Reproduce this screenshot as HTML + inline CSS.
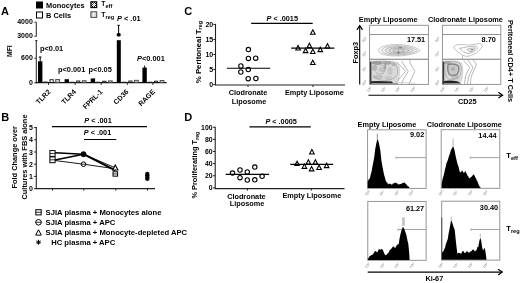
<!DOCTYPE html>
<html><head><meta charset="utf-8"><title>Figure</title>
<style>html,body{margin:0;padding:0;background:#fff;width:520px;height:283px;overflow:hidden}
svg{display:block} text{font-family:"Liberation Sans", Arial, Helvetica, sans-serif}</style></head>
<body><svg width="520" height="283" viewBox="0 0 520 283">
<defs>
<pattern id="chk" width="2" height="2" patternUnits="userSpaceOnUse"><rect width="2" height="2" fill="#fff"/><rect width="1" height="1" fill="#000"/><rect x="1" y="1" width="1" height="1" fill="#000"/></pattern>
<radialGradient id="dens1" cx="0.35" cy="0.4" r="0.7"><stop offset="0" stop-color="#bdbdbd"/><stop offset="0.55" stop-color="#a5a5a5"/><stop offset="1" stop-color="#d6d6d6"/></radialGradient>
<radialGradient id="dens2" cx="0.4" cy="0.45" r="0.7"><stop offset="0" stop-color="#b5b5b5"/><stop offset="0.55" stop-color="#a0a0a0"/><stop offset="1" stop-color="#d4d4d4"/></radialGradient>
<pattern id="vst" width="2" height="2" patternUnits="userSpaceOnUse"><rect width="2" height="2" fill="#ddd"/><rect width="1" height="2" fill="#999"/></pattern>
</defs>
<rect width="520" height="283" fill="#fff"/>
<text x="1" y="14.9" font-size="11" text-anchor="start" font-weight="bold" fill="#000" >A</text>
<rect x="36.5" y="2" width="6" height="6" fill="#000" stroke="#000" stroke-width="1"/>
<text x="46" y="8.4" font-size="7.4" text-anchor="start" font-weight="bold" fill="#000" >Monocytes</text>
<rect x="36.5" y="12" width="6" height="6" fill="#fff" stroke="#000" stroke-width="1"/>
<text x="46" y="17.6" font-size="7.4" text-anchor="start" font-weight="bold" fill="#000" >B Cells</text>
<rect x="90.9" y="1.8" width="5.8" height="5.8" fill="url(#chk)" stroke="#000" stroke-width="1.1"/>
<circle cx="93.8" cy="4.7" r="1.1" fill="#fff"/>
<text x="101.3" y="5.9" font-size="6.8" text-anchor="start" font-weight="bold" fill="#000" >T<tspan font-size="5.6" dy="1.9">eff</tspan></text>
<rect x="90.9" y="11.8" width="5.8" height="5.6" fill="#d8d8d8" stroke="#555" stroke-width="1.1"/>
<rect x="93.2" y="12.4" width="1.2" height="4.4" fill="#f4f4f4" stroke="none" stroke-width="1"/>
<text x="101.3" y="16.8" font-size="6.8" text-anchor="start" font-weight="bold" fill="#000" >T<tspan font-size="5.6" dy="1.9">reg</tspan></text>
<line x1="36.3" y1="22.2" x2="36.3" y2="36.4" stroke="#333" stroke-width="1.1" />
<line x1="36.3" y1="40.6" x2="36.3" y2="83.2" stroke="#333" stroke-width="1.1" />
<line x1="34.3" y1="22.2" x2="36.3" y2="22.2" stroke="#333" stroke-width="1" />
<line x1="34.3" y1="36.2" x2="36.3" y2="36.2" stroke="#333" stroke-width="1" />
<line x1="35.099999999999994" y1="40.6" x2="37.5" y2="40.6" stroke="#333" stroke-width="1" />
<line x1="34.3" y1="58.2" x2="36.3" y2="58.2" stroke="#333" stroke-width="1" />
<line x1="34.3" y1="82.8" x2="36.3" y2="82.8" stroke="#333" stroke-width="1" />
<text x="32.8" y="24.4" font-size="7.0" text-anchor="end" font-weight="bold" fill="#000" >4000</text>
<text x="32.8" y="38.4" font-size="7.0" text-anchor="end" font-weight="bold" fill="#000" >3000</text>
<text x="32.8" y="60.3" font-size="7.0" text-anchor="end" font-weight="bold" fill="#000" >600</text>
<text x="32.8" y="84.9" font-size="7.0" text-anchor="end" font-weight="bold" fill="#000" >0</text>
<text transform="translate(12.3,57) rotate(-90)" font-size="6.8" text-anchor="start" font-weight="bold" fill="#000">MFI</text>
<line x1="35.8" y1="82.7" x2="166.6" y2="82.7" stroke="#111" stroke-width="1.2" />
<line x1="48.5" y1="83" x2="48.5" y2="85" stroke="#333" stroke-width="1" />
<rect x="38" y="61.3" width="4.4" height="21.10000000000001" fill="#000" stroke="none" stroke-width="1"/>
<rect x="43.5" y="81.5" width="4.0" height="0.9" fill="#333" stroke="none" stroke-width="1"/>
<rect x="50.0" y="79.7" width="3.2" height="2.7" fill="#fff" stroke="#111" stroke-width="0.9"/>
<rect x="55.7" y="79.5" width="3.8" height="2.9" fill="#ccc" stroke="#444" stroke-width="0.9"/>
<line x1="75.1" y1="83" x2="75.1" y2="85" stroke="#333" stroke-width="1" />
<rect x="64.6" y="79.2" width="4.4" height="3.200000000000003" fill="#000" stroke="none" stroke-width="1"/>
<rect x="70.1" y="81.7" width="4.0" height="0.7" fill="#333" stroke="none" stroke-width="1"/>
<rect x="76.6" y="81.0" width="3.2" height="1.4" fill="#fff" stroke="#111" stroke-width="0.9"/>
<rect x="82.3" y="80.7" width="3.8" height="1.7" fill="#ccc" stroke="#444" stroke-width="0.9"/>
<line x1="101.2" y1="83" x2="101.2" y2="85" stroke="#333" stroke-width="1" />
<rect x="90.7" y="78.4" width="4.4" height="4.0" fill="#000" stroke="none" stroke-width="1"/>
<rect x="96.2" y="81.7" width="4.0" height="0.7" fill="#333" stroke="none" stroke-width="1"/>
<rect x="102.7" y="81.2" width="3.2" height="1.2" fill="#fff" stroke="#111" stroke-width="0.9"/>
<rect x="108.4" y="80.9" width="3.8" height="1.5" fill="#ccc" stroke="#444" stroke-width="0.9"/>
<line x1="127.3" y1="83" x2="127.3" y2="85" stroke="#333" stroke-width="1" />
<rect x="122.3" y="81.7" width="4.0" height="0.7" fill="#333" stroke="none" stroke-width="1"/>
<rect x="128.8" y="81.0" width="3.2" height="1.4" fill="#fff" stroke="#111" stroke-width="0.9"/>
<rect x="134.5" y="80.30000000000001" width="3.8" height="2.1" fill="#ccc" stroke="#444" stroke-width="0.9"/>
<line x1="152.9" y1="83" x2="152.9" y2="85" stroke="#333" stroke-width="1" />
<rect x="142.4" y="67.6" width="4.4" height="14.800000000000011" fill="#000" stroke="none" stroke-width="1"/>
<rect x="147.9" y="81.7" width="4.0" height="0.7" fill="#333" stroke="none" stroke-width="1"/>
<rect x="154.4" y="81.2" width="3.2" height="1.2" fill="#fff" stroke="#111" stroke-width="0.9"/>
<rect x="160.1" y="80.5" width="3.8" height="1.9" fill="#ccc" stroke="#444" stroke-width="0.9"/>
<line x1="40.2" y1="57" x2="40.2" y2="61.5" stroke="#000" stroke-width="1" />
<line x1="38.9" y1="57" x2="41.5" y2="57" stroke="#000" stroke-width="1" />
<line x1="144.6" y1="65.6" x2="144.6" y2="67.8" stroke="#000" stroke-width="1" />
<rect x="116.8" y="40.2" width="4.0" height="42.3" fill="#000" stroke="none" stroke-width="1"/>
<rect x="116.8" y="33.0" width="3.8" height="3.4" rx="1.2" fill="#000"/>
<line x1="118.6" y1="25.3" x2="118.6" y2="33.5" stroke="#000" stroke-width="1" />
<line x1="117.4" y1="25.3" x2="119.8" y2="25.3" stroke="#000" stroke-width="1" />
<text x="40" y="50.7" font-size="7.4" text-anchor="start" font-weight="bold" fill="#000" >p&lt;0.01</text>
<text x="58" y="72.4" font-size="7.4" text-anchor="start" font-weight="bold" fill="#000" >p&lt;0.001</text>
<text x="88.6" y="72.4" font-size="7.4" text-anchor="start" font-weight="bold" fill="#000" >p&lt;0.05</text>
<text x="117" y="20.6" font-size="7.4" text-anchor="start" font-weight="bold" fill="#000" ><tspan font-style="italic">P</tspan> &lt; .01</text>
<text x="137" y="61.3" font-size="7.4" text-anchor="start" font-weight="bold" fill="#000" ><tspan font-style="italic">P</tspan>&lt;0.001</text>
<text transform="translate(51.0,92.3) rotate(-45)" font-size="7.0" text-anchor="end" font-weight="bold" fill="#000">TLR2</text>
<text transform="translate(76.5,92.3) rotate(-45)" font-size="7.0" text-anchor="end" font-weight="bold" fill="#000">TLR4</text>
<text transform="translate(103.0,92.3) rotate(-45)" font-size="7.0" text-anchor="end" font-weight="bold" fill="#000">FPRL-1</text>
<text transform="translate(129.0,92.3) rotate(-45)" font-size="7.0" text-anchor="end" font-weight="bold" fill="#000">CD36</text>
<text transform="translate(155.5,92.3) rotate(-45)" font-size="7.0" text-anchor="end" font-weight="bold" fill="#000">RAGE</text>
<text x="1.2" y="120.8" font-size="11" text-anchor="start" font-weight="bold" fill="#000" >B</text>
<text transform="translate(17.2,188.5) rotate(-90)" font-size="7.4" text-anchor="start" font-weight="bold" fill="#000">Fold Change over</text>
<text transform="translate(27.2,199.5) rotate(-90)" font-size="7.4" text-anchor="start" font-weight="bold" fill="#000">Cultures with FBS alone</text>
<line x1="36.3" y1="127.1" x2="36.3" y2="189.1" stroke="#222" stroke-width="1.1" />
<line x1="34.099999999999994" y1="188.6" x2="36.3" y2="188.6" stroke="#222" stroke-width="1" />
<text x="33" y="191.1" font-size="7.0" text-anchor="end" font-weight="bold" fill="#000" >0</text>
<line x1="34.099999999999994" y1="176.4" x2="36.3" y2="176.4" stroke="#222" stroke-width="1" />
<text x="33" y="178.9" font-size="7.0" text-anchor="end" font-weight="bold" fill="#000" >1</text>
<line x1="34.099999999999994" y1="164.2" x2="36.3" y2="164.2" stroke="#222" stroke-width="1" />
<text x="33" y="166.7" font-size="7.0" text-anchor="end" font-weight="bold" fill="#000" >2</text>
<line x1="34.099999999999994" y1="152.0" x2="36.3" y2="152.0" stroke="#222" stroke-width="1" />
<text x="33" y="154.5" font-size="7.0" text-anchor="end" font-weight="bold" fill="#000" >3</text>
<line x1="34.099999999999994" y1="139.8" x2="36.3" y2="139.8" stroke="#222" stroke-width="1" />
<text x="33" y="142.3" font-size="7.0" text-anchor="end" font-weight="bold" fill="#000" >4</text>
<line x1="34.099999999999994" y1="127.6" x2="36.3" y2="127.6" stroke="#222" stroke-width="1" />
<text x="33" y="130.1" font-size="7.0" text-anchor="end" font-weight="bold" fill="#000" >5</text>
<line x1="35.8" y1="188.6" x2="155" y2="188.6" stroke="#222" stroke-width="1.2" />
<line x1="52.5" y1="188.6" x2="52.5" y2="190.6" stroke="#222" stroke-width="1" />
<line x1="83.8" y1="188.6" x2="83.8" y2="190.6" stroke="#222" stroke-width="1" />
<line x1="115.8" y1="188.6" x2="115.8" y2="190.6" stroke="#222" stroke-width="1" />
<line x1="147.5" y1="188.6" x2="147.5" y2="190.6" stroke="#222" stroke-width="1" />
<text x="84.3" y="122.6" font-size="7.3" text-anchor="start" font-weight="bold" fill="#000" ><tspan font-style="italic">P</tspan> &lt; .001</text>
<line x1="52" y1="126.6" x2="147" y2="126.6" stroke="#000" stroke-width="1.1" />
<text x="83.8" y="135.2" font-size="7.3" text-anchor="start" font-weight="bold" fill="#000" ><tspan font-style="italic">P</tspan> &lt; .001</text>
<line x1="84" y1="139.5" x2="116.3" y2="139.5" stroke="#000" stroke-width="1.1" />
<line x1="55" y1="152.85399999999998" x2="83.5" y2="154.196" stroke="#000" stroke-width="1.5" />
<line x1="55" y1="159.93" x2="83.5" y2="154.196" stroke="#000" stroke-width="1.5" />
<line x1="55" y1="160.54" x2="83.5" y2="164.2" stroke="#000" stroke-width="0.9" />
<line x1="83.5" y1="154.196" x2="115.3" y2="170.3" stroke="#000" stroke-width="1.9" />
<line x1="83.5" y1="164.2" x2="115.3" y2="168.83599999999998" stroke="#000" stroke-width="0.9" />
<line x1="83.5" y1="154.196" x2="115.3" y2="167.85999999999999" stroke="#000" stroke-width="0.9" />
<rect x="49.9" y="150.564" width="5.2" height="5.8" fill="#fff" stroke="#000" stroke-width="1.0"/>
<line x1="49.9" y1="153.464" x2="55.1" y2="153.464" stroke="#000" stroke-width="0.8" />
<rect x="49.9" y="156.908" width="5.2" height="5.8" fill="#fff" stroke="#000" stroke-width="1.0"/>
<line x1="49.9" y1="159.808" x2="55.1" y2="159.808" stroke="#000" stroke-width="0.8" />
<circle cx="83.5" cy="154.196" r="2.5" fill="#000" stroke="#000" stroke-width="1"/>
<circle cx="83.5" cy="164.2" r="2.3" fill="#fff" stroke="#000" stroke-width="1.0"/>
<line x1="81.2" y1="164.2" x2="85.8" y2="164.2" stroke="#000" stroke-width="0.8" />
<polygon points="115.3,164.97599999999997 117.89999999999999,169.956 112.7,169.956" fill="#fff" stroke="#000" stroke-width="1.1" stroke-linejoin="miter"/>
<rect x="113.0" y="171.76000000000002" width="4.6" height="4.4" fill="#fff" stroke="#000" stroke-width="1.0"/>
<line x1="113.0" y1="173.96" x2="117.6" y2="173.96" stroke="#000" stroke-width="0.8" />
<path d="M145.10,173.96 L149.50,173.96 M145.74,172.40 L148.86,175.52 M147.30,171.76 L147.30,176.16 M148.86,172.40 L145.74,175.52 " fill="none" stroke="#000" stroke-width="1.2" />
<path d="M145.10,175.67 L149.50,175.67 M145.74,174.11 L148.86,177.22 M147.30,173.47 L147.30,177.87 M148.86,174.11 L145.74,177.22 " fill="none" stroke="#000" stroke-width="1.2" />
<path d="M145.10,177.25 L149.50,177.25 M145.74,175.70 L148.86,178.81 M147.30,175.05 L147.30,179.45 M148.86,175.70 L145.74,178.81 " fill="none" stroke="#000" stroke-width="1.2" />
<path d="M145.10,178.84 L149.50,178.84 M145.74,177.28 L148.86,180.40 M147.30,176.64 L147.30,181.04 M148.86,177.28 L145.74,180.40 " fill="none" stroke="#000" stroke-width="1.2" />
<rect x="35.8" y="209.70000000000002" width="5.4" height="5.2" fill="#fff" stroke="#000" stroke-width="1"/>
<line x1="35.8" y1="212.3" x2="41.2" y2="212.3" stroke="#000" stroke-width="0.8" />
<text x="45.6" y="215.2" font-size="7.65" text-anchor="start" font-weight="bold" fill="#000" >SJIA plasma + Monocytes alone</text>
<circle cx="38.5" cy="222.3" r="2.8" fill="#fff" stroke="#000" stroke-width="1"/>
<line x1="35.7" y1="222.3" x2="41.3" y2="222.3" stroke="#000" stroke-width="0.8" />
<text x="45.6" y="225.2" font-size="7.65" text-anchor="start" font-weight="bold" fill="#000" >SJIA plasma + APC</text>
<polygon points="38.5,229.77999999999997 41.3,235.12 35.7,235.12" fill="#fff" stroke="#000" stroke-width="1" stroke-linejoin="miter"/>
<text x="45.6" y="235.2" font-size="7.65" text-anchor="start" font-weight="bold" fill="#000" >SJIA plasma + Monocyte-depleted APC</text>
<path d="M36.10,242.20 L40.90,242.20 M36.80,240.50 L40.20,243.90 M38.50,239.80 L38.50,244.60 M40.20,240.50 L36.80,243.90 " fill="none" stroke="#000" stroke-width="1.0" />
<text x="51.2" y="244.7" font-size="7.65" text-anchor="start" font-weight="bold" fill="#000" >HC plasma + APC</text>
<text x="184.3" y="15.2" font-size="11" text-anchor="start" font-weight="bold" fill="#000" >C</text>
<line x1="215.5" y1="23.9" x2="215.5" y2="85.1" stroke="#222" stroke-width="1.1" />
<line x1="213.3" y1="84.6" x2="215.5" y2="84.6" stroke="#222" stroke-width="1" />
<text x="213.2" y="87.1" font-size="7.0" text-anchor="end" font-weight="bold" fill="#000" >0</text>
<line x1="213.3" y1="69.55" x2="215.5" y2="69.55" stroke="#222" stroke-width="1" />
<text x="213.2" y="72.05" font-size="7.0" text-anchor="end" font-weight="bold" fill="#000" >5</text>
<line x1="213.3" y1="54.5" x2="215.5" y2="54.5" stroke="#222" stroke-width="1" />
<text x="213.2" y="57.0" font-size="7.0" text-anchor="end" font-weight="bold" fill="#000" >10</text>
<line x1="213.3" y1="39.449999999999996" x2="215.5" y2="39.449999999999996" stroke="#222" stroke-width="1" />
<text x="213.2" y="41.949999999999996" font-size="7.0" text-anchor="end" font-weight="bold" fill="#000" >15</text>
<line x1="213.3" y1="24.4" x2="215.5" y2="24.4" stroke="#222" stroke-width="1" />
<text x="213.2" y="26.9" font-size="7.0" text-anchor="end" font-weight="bold" fill="#000" >20</text>
<line x1="215.0" y1="85" x2="345" y2="85" stroke="#222" stroke-width="1.2" />
<line x1="248" y1="85" x2="248" y2="87" stroke="#222" stroke-width="1" />
<line x1="313" y1="85" x2="313" y2="87" stroke="#222" stroke-width="1" />
<text transform="translate(201.0,83.2) rotate(-90)" font-size="7.8" text-anchor="start" font-weight="bold" fill="#000">% Peritoneal T<tspan font-size="5.4" dy="1.4">reg</tspan></text>
<text x="266.5" y="20.5" font-size="7.3" text-anchor="start" font-weight="bold" fill="#000" ><tspan font-style="italic">P</tspan> &lt; .0015</text>
<line x1="251.2" y1="23.4" x2="312.7" y2="23.4" stroke="#000" stroke-width="1.1" />
<circle cx="248.4" cy="49.6" r="2.2" fill="#fff" stroke="#000" stroke-width="1.1"/>
<circle cx="248.4" cy="58.4" r="2.2" fill="#fff" stroke="#000" stroke-width="1.1"/>
<circle cx="255.7" cy="58.2" r="2.2" fill="#fff" stroke="#000" stroke-width="1.1"/>
<circle cx="240.9" cy="66" r="2.2" fill="#fff" stroke="#000" stroke-width="1.1"/>
<circle cx="248.3" cy="69.6" r="2.2" fill="#fff" stroke="#000" stroke-width="1.1"/>
<circle cx="240.8" cy="72" r="2.2" fill="#fff" stroke="#000" stroke-width="1.1"/>
<circle cx="248.2" cy="78.7" r="2.2" fill="#fff" stroke="#000" stroke-width="1.1"/>
<circle cx="255.9" cy="78.5" r="2.2" fill="#fff" stroke="#000" stroke-width="1.1"/>
<line x1="227" y1="68.2" x2="270.2" y2="68.2" stroke="#000" stroke-width="1.1" />
<polygon points="312.8,29.830000000000002 315.1,34.27 310.5,34.27" fill="#fff" stroke="#000" stroke-width="1.1" stroke-linejoin="miter"/>
<polygon points="298.1,45.53 300.40000000000003,49.97 295.8,49.97" fill="#fff" stroke="#000" stroke-width="1.1" stroke-linejoin="miter"/>
<polygon points="309.4,43.230000000000004 311.7,47.67 307.09999999999997,47.67" fill="#fff" stroke="#000" stroke-width="1.1" stroke-linejoin="miter"/>
<polygon points="305.6,48.230000000000004 307.90000000000003,52.67 303.3,52.67" fill="#fff" stroke="#000" stroke-width="1.1" stroke-linejoin="miter"/>
<polygon points="312.8,49.13 315.1,53.57 310.5,53.57" fill="#fff" stroke="#000" stroke-width="1.1" stroke-linejoin="miter"/>
<polygon points="320.3,47.230000000000004 322.6,51.67 318.0,51.67" fill="#fff" stroke="#000" stroke-width="1.1" stroke-linejoin="miter"/>
<polygon points="327.5,43.63 329.8,48.07 325.2,48.07" fill="#fff" stroke="#000" stroke-width="1.1" stroke-linejoin="miter"/>
<polygon points="312.8,60.13 315.1,64.57 310.5,64.57" fill="#fff" stroke="#000" stroke-width="1.1" stroke-linejoin="miter"/>
<line x1="291.2" y1="48.1" x2="334.4" y2="48.1" stroke="#000" stroke-width="1.1" />
<text x="248" y="95.2" font-size="7.3" text-anchor="middle" font-weight="bold" fill="#000" >Clodronate</text>
<text x="249" y="103.7" font-size="7.3" text-anchor="middle" font-weight="bold" fill="#000" >Liposome</text>
<text x="314.4" y="95.2" font-size="7.3" text-anchor="middle" font-weight="bold" fill="#000" >Empty Liposome</text>
<text x="184.3" y="120.8" font-size="11" text-anchor="start" font-weight="bold" fill="#000" >D</text>
<line x1="215.2" y1="126.75" x2="215.2" y2="188.6" stroke="#222" stroke-width="1.1" />
<line x1="213.0" y1="187.9" x2="215.2" y2="187.9" stroke="#222" stroke-width="1" />
<text x="212.6" y="190.4" font-size="6.9" text-anchor="end" font-weight="bold" fill="#000" >0</text>
<line x1="213.0" y1="175.77" x2="215.2" y2="175.77" stroke="#222" stroke-width="1" />
<text x="212.6" y="178.27" font-size="6.9" text-anchor="end" font-weight="bold" fill="#000" >20</text>
<line x1="213.0" y1="163.64000000000001" x2="215.2" y2="163.64000000000001" stroke="#222" stroke-width="1" />
<text x="212.6" y="166.14000000000001" font-size="6.9" text-anchor="end" font-weight="bold" fill="#000" >40</text>
<line x1="213.0" y1="151.51" x2="215.2" y2="151.51" stroke="#222" stroke-width="1" />
<text x="212.6" y="154.01" font-size="6.9" text-anchor="end" font-weight="bold" fill="#000" >60</text>
<line x1="213.0" y1="139.38" x2="215.2" y2="139.38" stroke="#222" stroke-width="1" />
<text x="212.6" y="141.88" font-size="6.9" text-anchor="end" font-weight="bold" fill="#000" >80</text>
<line x1="213.0" y1="127.25" x2="215.2" y2="127.25" stroke="#222" stroke-width="1" />
<text x="212.6" y="129.75" font-size="6.9" text-anchor="end" font-weight="bold" fill="#000" >100</text>
<line x1="214.7" y1="188.6" x2="344.5" y2="188.6" stroke="#222" stroke-width="1.2" />
<line x1="247.4" y1="188.6" x2="247.4" y2="190.6" stroke="#222" stroke-width="1" />
<line x1="311.3" y1="188.6" x2="311.3" y2="190.6" stroke="#222" stroke-width="1" />
<text transform="translate(197.4,198.6) rotate(-90)" font-size="7.4" text-anchor="start" font-weight="bold" fill="#000">% Proliferating T<tspan font-size="5.2" dy="1.3">reg</tspan></text>
<text x="265.4" y="123.6" font-size="7.3" text-anchor="start" font-weight="bold" fill="#000" ><tspan font-style="italic">P</tspan> &lt; .0005</text>
<line x1="249.5" y1="126.9" x2="310.8" y2="126.9" stroke="#000" stroke-width="1.1" />
<circle cx="232.5" cy="173.1" r="2.2" fill="#fff" stroke="#000" stroke-width="1.1"/>
<circle cx="240" cy="170" r="2.2" fill="#fff" stroke="#000" stroke-width="1.1"/>
<circle cx="240" cy="177.7" r="2.2" fill="#fff" stroke="#000" stroke-width="1.1"/>
<circle cx="247.3" cy="171.9" r="2.2" fill="#fff" stroke="#000" stroke-width="1.1"/>
<circle cx="247.3" cy="180" r="2.2" fill="#fff" stroke="#000" stroke-width="1.1"/>
<circle cx="254.8" cy="167.1" r="2.2" fill="#fff" stroke="#000" stroke-width="1.1"/>
<circle cx="254.8" cy="179.8" r="2.2" fill="#fff" stroke="#000" stroke-width="1.1"/>
<circle cx="262.1" cy="176.3" r="2.2" fill="#fff" stroke="#000" stroke-width="1.1"/>
<line x1="225.6" y1="174.4" x2="269" y2="174.4" stroke="#000" stroke-width="1.1" />
<polygon points="311.9,149.53 314.2,153.97 309.59999999999997,153.97" fill="#fff" stroke="#000" stroke-width="1.1" stroke-linejoin="miter"/>
<polygon points="297.1,161.13 299.40000000000003,165.57 294.8,165.57" fill="#fff" stroke="#000" stroke-width="1.1" stroke-linejoin="miter"/>
<polygon points="304.4,163.93 306.7,168.37 302.09999999999997,168.37" fill="#fff" stroke="#000" stroke-width="1.1" stroke-linejoin="miter"/>
<polygon points="308.4,159.73 310.7,164.17 306.09999999999997,164.17" fill="#fff" stroke="#000" stroke-width="1.1" stroke-linejoin="miter"/>
<polygon points="315.4,159.73 317.7,164.17 313.09999999999997,164.17" fill="#fff" stroke="#000" stroke-width="1.1" stroke-linejoin="miter"/>
<polygon points="311.6,166.43 313.90000000000003,170.87 309.3,170.87" fill="#fff" stroke="#000" stroke-width="1.1" stroke-linejoin="miter"/>
<polygon points="319.1,165.13 321.40000000000003,169.57 316.8,169.57" fill="#fff" stroke="#000" stroke-width="1.1" stroke-linejoin="miter"/>
<polygon points="326.6,163.23 328.90000000000003,167.67 324.3,167.67" fill="#fff" stroke="#000" stroke-width="1.1" stroke-linejoin="miter"/>
<line x1="290.2" y1="164.4" x2="333.1" y2="164.4" stroke="#000" stroke-width="1.1" />
<text x="246.4" y="198.9" font-size="7.3" text-anchor="middle" font-weight="bold" fill="#000" >Clodronate</text>
<text x="247" y="206.2" font-size="7.3" text-anchor="middle" font-weight="bold" fill="#000" >Liposome</text>
<text x="311.9" y="198.4" font-size="7.3" text-anchor="middle" font-weight="bold" fill="#000" >Empty Liposome</text>
<text x="388.2" y="21.6" font-size="7.3" text-anchor="middle" font-weight="bold" fill="#000" >Empty Liposome</text>
<text x="465.4" y="21.6" font-size="7.3" text-anchor="middle" font-weight="bold" fill="#000" >Clodronate Liposome</text>
<rect x="369.6" y="25.3" width="58.799999999999955" height="59.1" fill="none" stroke="#8a8a8a" stroke-width="0.9"/>
<line x1="369.6" y1="34.5" x2="428.4" y2="34.5" stroke="#8a8a8a" stroke-width="0.9" />
<line x1="369.6" y1="59.2" x2="428.4" y2="59.2" stroke="#7a7a7a" stroke-width="1.1" />
<rect x="442.4" y="25.3" width="58.400000000000034" height="59.1" fill="none" stroke="#8a8a8a" stroke-width="0.9"/>
<line x1="442.4" y1="34.5" x2="500.8" y2="34.5" stroke="#8a8a8a" stroke-width="0.9" />
<line x1="442.4" y1="59.2" x2="500.8" y2="59.2" stroke="#7a7a7a" stroke-width="1.1" />
<text x="425.2" y="42.2" font-size="7.3" text-anchor="end" font-weight="bold" fill="#000" >17.51</text>
<text x="495.8" y="42.2" font-size="7.3" text-anchor="end" font-weight="bold" fill="#000" >8.70</text>
<line x1="359.7" y1="84.4" x2="359.7" y2="26.0" stroke="#000" stroke-width="1.1" />
<path d="M356.9,29.8 L359.7,25.6 L362.5,29.8" fill="none" stroke="#000" stroke-width="1.2" stroke-linejoin="miter"/>
<line x1="368.5" y1="95.2" x2="502.2" y2="95.2" stroke="#000" stroke-width="1.1" />
<path d="M498.4,92.3 L502.6,95.2 L498.4,98.1" fill="none" stroke="#000" stroke-width="1.2" stroke-linejoin="miter"/>
<text transform="translate(357.7,63.4) rotate(-90)" font-size="7.3" text-anchor="start" font-weight="bold" fill="#000">Foxp3</text>
<text x="467.3" y="103.6" font-size="7.3" text-anchor="middle" font-weight="bold" fill="#000" >CD25</text>
<text transform="translate(507.6,20) rotate(90)" font-size="7.3" text-anchor="start" font-weight="bold" fill="#000">Peritoneal CD4+ T Cells</text>
<text x="387" y="126.5" font-size="7.3" text-anchor="middle" font-weight="bold" fill="#000" >Empty Liposome</text>
<text x="464.3" y="126.5" font-size="7.3" text-anchor="middle" font-weight="bold" fill="#000" >Clodronate Liposome</text>
<rect x="367.6" y="129.8" width="58.5" height="58.599999999999994" fill="none" stroke="#8a8a8a" stroke-width="0.9"/>
<rect x="441.2" y="129.7" width="58.60000000000002" height="58.60000000000002" fill="none" stroke="#8a8a8a" stroke-width="0.9"/>
<rect x="367.8" y="201.4" width="58.30000000000001" height="58.900000000000006" fill="none" stroke="#8a8a8a" stroke-width="0.9"/>
<rect x="441.7" y="201.2" width="58.10000000000002" height="58.900000000000034" fill="none" stroke="#8a8a8a" stroke-width="0.9"/>
<text x="424.2" y="137.4" font-size="7.3" text-anchor="end" font-weight="bold" fill="#000" >9.02</text>
<text x="496.6" y="138.1" font-size="7.3" text-anchor="end" font-weight="bold" fill="#000" >14.44</text>
<text x="424.2" y="210.8" font-size="7.3" text-anchor="end" font-weight="bold" fill="#000" >61.27</text>
<text x="498.1" y="210.0" font-size="7.3" text-anchor="end" font-weight="bold" fill="#000" >30.40</text>
<line x1="396" y1="157.6" x2="426.1" y2="157.6" stroke="#999" stroke-width="0.9" />
<line x1="396" y1="156.4" x2="396" y2="158.79999999999998" stroke="#999" stroke-width="0.8" />
<line x1="470.3" y1="157.6" x2="499.8" y2="157.6" stroke="#999" stroke-width="0.9" />
<line x1="470.3" y1="156.4" x2="470.3" y2="158.79999999999998" stroke="#999" stroke-width="0.8" />
<line x1="398" y1="229.5" x2="426.1" y2="229.5" stroke="#999" stroke-width="0.9" />
<line x1="398" y1="228.3" x2="398" y2="230.7" stroke="#999" stroke-width="0.8" />
<line x1="471" y1="229.5" x2="499.8" y2="229.5" stroke="#999" stroke-width="0.9" />
<line x1="471" y1="228.3" x2="471" y2="230.7" stroke="#999" stroke-width="0.8" />
<text x="506.3" y="158.2" font-size="7.6" text-anchor="start" font-weight="bold" fill="#000" >T<tspan font-size="5.6" dy="1.6">eff</tspan></text>
<text x="506.3" y="231.2" font-size="7.6" text-anchor="start" font-weight="bold" fill="#000" >T<tspan font-size="5.6" dy="1.6">reg</tspan></text>
<line x1="367.7" y1="272.1" x2="502.0" y2="272.1" stroke="#000" stroke-width="1.1" />
<path d="M498.1,269.2 L502.3,272.1 L498.1,275.0" fill="none" stroke="#000" stroke-width="1.2" stroke-linejoin="miter"/>
<text x="434.3" y="280.9" font-size="7.3" text-anchor="middle" font-weight="bold" fill="#000" >Ki-67</text>
<polygon points="367.7,188.1 367.7,181.29 368.6,179.78 370.0,177.98 370.75,174.34 371.5,171.94 372.6,165.84 373.7,160.37 374.45,155.41 375.2,149.34 376.5,142.42 377.4,138.68 378.3,140.71 379.3,144.91 380.3,150.29 381.4,160.45 382.5,166.67 383.5,172.05 384.23,175.34 384.97,177.79 385.7,180.48 386.47,182.3 387.23,182.32 388.0,184.43 388.8,183.85 389.6,183.77 390.4,183.84 391.2,184.17 392.0,184.88 392.75,183.62 393.5,183.6 394.25,183.17 395.0,182.35 395.75,183.06 396.5,182.98 397.25,183.47 398.0,184.15 398.75,184.59 399.5,184.16 400.25,183.9 401.0,184.1 401.75,183.52 402.5,182.91 403.25,183.08 404.0,182.54 404.83,182.73 405.67,183.86 406.5,184.53 407.23,185.73 407.95,186.33 408.67,186.57 409.4,187.6 409.4,188.1" fill="#000" stroke="none" stroke-width="1"/>
<line x1="377.4" y1="133.5" x2="377.4" y2="139.6" stroke="#a8a8a8" stroke-width="1.2" />
<polygon points="441.7,188.0 441.7,183.67 442.6,178.97 443.5,175.89 444.23,173.36 444.95,169.51 445.67,166.98 446.4,163.35 447.27,161.57 448.13,159.04 449.0,156.1 450.0,153.53 451.0,149.74 451.7,148.94 452.4,147.47 453.1,146.11 454.5,149.94 455.33,154.41 456.17,158.49 457.0,161.76 457.75,164.68 458.5,166.48 459.25,170.03 460.0,172.61 461.0,171.89 462.0,170.45 462.75,171.2 463.5,172.84 464.45,172.39 465.4,170.63 466.1,172.81 466.8,173.97 467.5,175.46 468.23,176.28 468.97,178.18 469.7,178.18 470.47,177.45 471.23,176.75 472.0,176.52 472.95,174.66 473.9,174.43 474.6,175.74 475.3,177.37 476.0,178.45 476.8,180.53 477.6,181.74 478.4,183.96 479.2,185.9 480.5,187.6 480.5,188.0" fill="#000" stroke="none" stroke-width="1"/>
<line x1="453.1" y1="138.5" x2="453.1" y2="146" stroke="#aaa" stroke-width="0.9" />
<polygon points="367.8,260.1 367.8,258.54 368.53,258.14 369.27,256.51 370.0,256.05 370.8,255.56 371.6,254.99 372.4,254.78 373.2,254.02 374.0,252.67 374.75,251.31 375.5,250.89 376.25,251.57 377.0,252.59 377.85,251.38 378.7,249.27 379.4,249.19 380.1,249.5 380.8,249.75 381.75,248.73 382.7,249.76 383.6,251.74 384.5,254.02 385.25,254.92 386.0,255.35 387.0,254.36 388.0,252.94 388.75,252.44 389.5,250.39 390.5,249.39 391.5,248.59 392.4,247.28 393.3,246.28 394.15,247.12 395.0,248.3 395.75,247.01 396.5,245.44 397.2,245.11 397.9,243.94 398.6,244.42 399.6,238.16 400.4,234.51 401.6,229.65 403.0,226.79 404.2,228.81 405.2,231.47 406.5,235.49 407.5,240.69 408.3,243.85 409.2,252.68 409.6,259.8 409.6,260.1" fill="#000" stroke="none" stroke-width="1"/>
<rect x="402.1" y="217.3" width="2.7" height="8.6" fill="#c4c4c4" stroke="none" stroke-width="1"/>
<polygon points="441.9,259.8 441.9,252.75 442.7,251.78 443.5,251.22 444.25,248.98 445.0,247.89 445.75,244.54 446.5,242.14 447.7,239.31 448.7,233.05 449.5,228.96 450.4,224.08 451.2,219.65 452.3,223.05 453.5,226.86 454.8,230.25 455.6,238.85 456.5,246.87 457.4,254.06 458.2,252.8 459.0,252.99 460.0,253.06 461.0,254.0 462.0,251.94 463.0,250.5 464.0,252.31 465.0,253.37 466.0,252.13 467.0,251.05 468.0,252.07 469.0,252.93 470.0,251.51 471.0,251.53 472.0,250.49 473.0,249.15 474.0,250.15 475.0,251.6 475.75,250.57 476.5,250.35 477.5,246.82 478.2,247.21 479.4,240.79 480.3,237.58 481.2,240.82 482.1,247.06 483.0,250.5 483.85,249.11 484.7,247.65 485.6,252.47 486.5,259.7 486.5,259.8" fill="#000" stroke="none" stroke-width="1"/>
<line x1="441.8" y1="217.5" x2="441.8" y2="259.8" stroke="#333" stroke-width="0.8" />
<line x1="451.2" y1="216.5" x2="451.2" y2="221" stroke="#bbb" stroke-width="1.0" />
<line x1="480.3" y1="233.5" x2="480.3" y2="237" stroke="#bbb" stroke-width="1.0" />
<text transform="translate(368.3,194.2) rotate(-40)" font-size="3.8" fill="#8c8c8c" text-anchor="middle" font-weight="normal">10<tspan font-size="2.8" dy="-1.4">0</tspan></text>
<text transform="translate(382.6,194.2) rotate(-40)" font-size="3.8" fill="#8c8c8c" text-anchor="middle" font-weight="normal">10<tspan font-size="2.8" dy="-1.4">1</tspan></text>
<text transform="translate(397.7,194.2) rotate(-40)" font-size="3.8" fill="#8c8c8c" text-anchor="middle" font-weight="normal">10<tspan font-size="2.8" dy="-1.4">2</tspan></text>
<text transform="translate(412.0,194.2) rotate(-40)" font-size="3.8" fill="#8c8c8c" text-anchor="middle" font-weight="normal">10<tspan font-size="2.8" dy="-1.4">3</tspan></text>
<text transform="translate(441.7,194.2) rotate(-40)" font-size="3.8" fill="#8c8c8c" text-anchor="middle" font-weight="normal">10<tspan font-size="2.8" dy="-1.4">0</tspan></text>
<text transform="translate(456.0,194.2) rotate(-40)" font-size="3.8" fill="#8c8c8c" text-anchor="middle" font-weight="normal">10<tspan font-size="2.8" dy="-1.4">1</tspan></text>
<text transform="translate(471.0,194.2) rotate(-40)" font-size="3.8" fill="#8c8c8c" text-anchor="middle" font-weight="normal">10<tspan font-size="2.8" dy="-1.4">2</tspan></text>
<text transform="translate(486.2,194.2) rotate(-40)" font-size="3.8" fill="#8c8c8c" text-anchor="middle" font-weight="normal">10<tspan font-size="2.8" dy="-1.4">3</tspan></text>
<text transform="translate(368.3,266.6) rotate(-40)" font-size="3.8" fill="#8c8c8c" text-anchor="middle" font-weight="normal">10<tspan font-size="2.8" dy="-1.4">0</tspan></text>
<text transform="translate(383.4,266.6) rotate(-40)" font-size="3.8" fill="#8c8c8c" text-anchor="middle" font-weight="normal">10<tspan font-size="2.8" dy="-1.4">1</tspan></text>
<text transform="translate(397.7,266.6) rotate(-40)" font-size="3.8" fill="#8c8c8c" text-anchor="middle" font-weight="normal">10<tspan font-size="2.8" dy="-1.4">2</tspan></text>
<text transform="translate(412.8,266.6) rotate(-40)" font-size="3.8" fill="#8c8c8c" text-anchor="middle" font-weight="normal">10<tspan font-size="2.8" dy="-1.4">3</tspan></text>
<text transform="translate(441.7,266.6) rotate(-40)" font-size="3.8" fill="#8c8c8c" text-anchor="middle" font-weight="normal">10<tspan font-size="2.8" dy="-1.4">0</tspan></text>
<text transform="translate(456.5,266.6) rotate(-40)" font-size="3.8" fill="#8c8c8c" text-anchor="middle" font-weight="normal">10<tspan font-size="2.8" dy="-1.4">1</tspan></text>
<text transform="translate(471.0,266.6) rotate(-40)" font-size="3.8" fill="#8c8c8c" text-anchor="middle" font-weight="normal">10<tspan font-size="2.8" dy="-1.4">2</tspan></text>
<text transform="translate(486.2,266.6) rotate(-40)" font-size="3.8" fill="#8c8c8c" text-anchor="middle" font-weight="normal">10<tspan font-size="2.8" dy="-1.4">3</tspan></text>
<text transform="translate(370,90.6) rotate(-40)" font-size="3.8" fill="#8c8c8c" text-anchor="middle" font-weight="normal">10<tspan font-size="2.8" dy="-1.4">0</tspan></text>
<text transform="translate(384.4,90.6) rotate(-40)" font-size="3.8" fill="#8c8c8c" text-anchor="middle" font-weight="normal">10<tspan font-size="2.8" dy="-1.4">1</tspan></text>
<text transform="translate(398.7,90.6) rotate(-40)" font-size="3.8" fill="#8c8c8c" text-anchor="middle" font-weight="normal">10<tspan font-size="2.8" dy="-1.4">2</tspan></text>
<text transform="translate(413.8,90.6) rotate(-40)" font-size="3.8" fill="#8c8c8c" text-anchor="middle" font-weight="normal">10<tspan font-size="2.8" dy="-1.4">3</tspan></text>
<text transform="translate(443.5,90.6) rotate(-40)" font-size="3.8" fill="#8c8c8c" text-anchor="middle" font-weight="normal">10<tspan font-size="2.8" dy="-1.4">0</tspan></text>
<text transform="translate(457.8,90.6) rotate(-40)" font-size="3.8" fill="#8c8c8c" text-anchor="middle" font-weight="normal">10<tspan font-size="2.8" dy="-1.4">1</tspan></text>
<text transform="translate(472.4,90.6) rotate(-40)" font-size="3.8" fill="#8c8c8c" text-anchor="middle" font-weight="normal">10<tspan font-size="2.8" dy="-1.4">2</tspan></text>
<text transform="translate(487.0,90.6) rotate(-40)" font-size="3.8" fill="#8c8c8c" text-anchor="middle" font-weight="normal">10<tspan font-size="2.8" dy="-1.4">3</tspan></text>
<text transform="translate(365.2,84.2) rotate(-40)" font-size="3.8" fill="#8c8c8c" text-anchor="middle">10<tspan font-size="2.8" dy="-1.4">0</tspan></text>
<text transform="translate(365.2,70.2) rotate(-40)" font-size="3.8" fill="#8c8c8c" text-anchor="middle">10<tspan font-size="2.8" dy="-1.4">1</tspan></text>
<text transform="translate(365.2,55.2) rotate(-40)" font-size="3.8" fill="#8c8c8c" text-anchor="middle">10<tspan font-size="2.8" dy="-1.4">2</tspan></text>
<text transform="translate(365.2,41.0) rotate(-40)" font-size="3.8" fill="#8c8c8c" text-anchor="middle">10<tspan font-size="2.8" dy="-1.4">3</tspan></text>
<text transform="translate(438.2,84.2) rotate(-40)" font-size="3.8" fill="#8c8c8c" text-anchor="middle">10<tspan font-size="2.8" dy="-1.4">0</tspan></text>
<text transform="translate(438.2,70.2) rotate(-40)" font-size="3.8" fill="#8c8c8c" text-anchor="middle">10<tspan font-size="2.8" dy="-1.4">1</tspan></text>
<text transform="translate(438.2,55.2) rotate(-40)" font-size="3.8" fill="#8c8c8c" text-anchor="middle">10<tspan font-size="2.8" dy="-1.4">2</tspan></text>
<text transform="translate(438.2,41.0) rotate(-40)" font-size="3.8" fill="#8c8c8c" text-anchor="middle">10<tspan font-size="2.8" dy="-1.4">3</tspan></text>
<path d="M370,60.4 L386,60.4 Q395,60.6 398,63 Q401,68 400,74 Q399.5,80 397.5,84 L370,84 Z" fill="#d9d9d9" stroke="none" stroke-width="1" />
<ellipse cx="377" cy="62.8" rx="5.5" ry="1.9" fill="#9c9c9c"/>
<ellipse cx="387" cy="63" rx="4.5" ry="1.7" fill="#a6a6a6"/>
<ellipse cx="393.5" cy="64.5" rx="2.2" ry="1.8" fill="#b3b3b3"/>
<ellipse cx="374.5" cy="68" rx="2.6" ry="3" fill="#b4b4b4"/>
<ellipse cx="382" cy="69.5" rx="3.5" ry="2.6" fill="#c2c2c2"/>
<ellipse cx="390" cy="71" rx="2.5" ry="4" fill="#c6c6c6"/>
<ellipse cx="378" cy="77" rx="5" ry="2.2" fill="#c0c0c0"/>
<ellipse cx="388.5" cy="78" rx="4" ry="2" fill="#c8c8c8"/>
<ellipse cx="385.3" cy="66" rx="0.8" ry="3.5" fill="#9e9e9e"/>
<path d="M372.5,61.8 Q384,60.2 394,62.2 Q398.5,67 397.5,74 Q395,80 386,80.5 Q376,80.5 372.8,75" fill="none" stroke="#9a9a9a" stroke-width="0.6" />
<path d="M375,65 Q380,63.5 384,66 Q386,70 383,73.5 Q378,75 375.5,72" fill="none" stroke="#9a9a9a" stroke-width="0.6" />
<path d="M370,81.3 Q380,80.8 392,81.6 L393,83.2 L370,83.2 Z" fill="#262626" stroke="none" stroke-width="1" />
<path d="M370,83.2 L398,83.2 L398,84.2 L370,84.2 Z" fill="#8a8a8a" stroke="none" stroke-width="1" />
<path d="M369.9,61.5 L371.4,61.8 L371.4,84 L369.9,84 Z" fill="#3c3c3c" stroke="none" stroke-width="1" />
<path d="M395,82.6 Q405,82.2 415,83.4" fill="none" stroke="#bbb" stroke-width="0.6" />
<path d="M396.6,61.6 L405.6,71.3 L400.6,77 L397.5,81" fill="none" stroke="#a0a0a0" stroke-width="0.75" stroke-linejoin="round"/>
<path d="M401.5,61 L408.2,71.3 L403.5,79 L401.5,84" fill="none" stroke="#a0a0a0" stroke-width="0.75" stroke-linejoin="round"/>
<path d="M409.8,59.3 L410,63 L414.9,71.3 L410.8,80 L409,84" fill="none" stroke="#a0a0a0" stroke-width="0.75" stroke-linejoin="round"/>
<path d="M378.40,50.60 C378.82,42.67 410.80,42.30 420.20,50.60 C410.80,57.94 378.82,57.62 378.40,50.60 Z" fill="#f6f6f6" stroke="#a0a0a0" stroke-width="0.55" />
<path d="M381.80,50.60 C382.15,44.23 409.08,43.94 417.00,50.60 C409.08,56.58 382.15,56.32 381.80,50.60 Z" fill="#f0f0f0" stroke="#999" stroke-width="0.55" />
<path d="M385.30,50.60 C385.58,45.66 407.00,45.43 413.30,50.60 C407.00,55.36 385.58,55.15 385.30,50.60 Z" fill="#e8e8e8" stroke="#939393" stroke-width="0.55" />
<path d="M389.00,50.60 C389.20,46.96 404.81,46.79 409.40,50.60 C404.81,54.14 389.20,53.98 389.00,50.60 Z" fill="#dedede" stroke="#8c8c8c" stroke-width="0.55" />
<path d="M393.00,50.60 C393.12,48.26 402.30,48.15 405.00,50.60 C402.30,52.91 393.12,52.81 393.00,50.60 Z" fill="#d2d2d2" stroke="#858585" stroke-width="0.5" />
<line x1="398.3" y1="45.2" x2="398.3" y2="55.8" stroke="#a5a5a5" stroke-width="0.7" />
<ellipse cx="400.5" cy="47.4" rx="1.5" ry="0.9" fill="#8a8a8a"/>
<ellipse cx="398.5" cy="52.4" rx="1.3" ry="0.9" fill="#7a7a7a"/>
<path d="M442.8,60.4 L455,60.4 Q461,61 462.5,64 Q464,70 463,76 Q462,81 460,84 L442.8,84 Z" fill="#d8d8d8" stroke="none" stroke-width="1" />
<ellipse cx="447.5" cy="62.6" rx="3.8" ry="1.6" fill="#a8a8a8"/>
<ellipse cx="455" cy="77.5" rx="4" ry="2.2" fill="#c0c0c0"/>
<path d="M445,62 Q455,60.5 460,63 Q462.5,69 460.5,75 Q456,80 449,79.5 Q445,77 445,70 Z" fill="none" stroke="#9a9a9a" stroke-width="0.6" />
<path d="M448,64.5 Q455,63 458.5,66 Q459.5,71 457,74.5 Q452,76.5 449,74 Q447,70 448,64.5 Z" fill="#c8c8c8" stroke="#858585" stroke-width="1.4" />
<ellipse cx="453" cy="69" rx="2.2" ry="1.9" fill="#b0b0b0"/>
<path d="M442.6,81.2 Q450,79.8 457,81.2 Q459.5,82 460.5,83.3 L442.6,83.3 Z" fill="#222" stroke="none" stroke-width="1" />
<path d="M442.6,83.2 L461,83.2 L461,84.2 L442.6,84.2 Z" fill="#8a8a8a" stroke="none" stroke-width="1" />
<path d="M442.6,61.5 L444.2,61.8 L444.2,84 L442.6,84 Z" fill="#3c3c3c" stroke="none" stroke-width="1" />
<path d="M463.5,60.6 L469.7,67.3 L465.5,76 L464.5,84" fill="none" stroke="#a0a0a0" stroke-width="0.75" stroke-linejoin="round"/>
<path d="M467.5,59.6 L473,67.3 L468.5,77 L467.5,84" fill="none" stroke="#a0a0a0" stroke-width="0.75" stroke-linejoin="round"/>
<path d="M472.5,59.3 L476.5,64 L474.5,69 L471,77 L470.5,84" fill="none" stroke="#a0a0a0" stroke-width="0.75" stroke-linejoin="round"/>
<path d="M453.5,48 Q454.5,44 461,44.5 Q469,46 479.5,43.6 Q484,44 481,48.5 Q477,54 470,56 Q465,57 462.5,55 Q458,52.5 453.5,48 Z" fill="none" stroke="#9a9a9a" stroke-width="0.6" />
<line x1="462.5" y1="55" x2="462.5" y2="59.2" stroke="#9a9a9a" stroke-width="0.6" />
<path d="M459.5,48.4 Q466,47 472,46.2 Q478.5,45.6 477.2,48.8 Q473.5,53.2 468,53.6 Q463,52.5 459.5,48.4 Z" fill="none" stroke="#8d8d8d" stroke-width="0.6" />
<path d="M467,49.3 Q471,47.8 475,47.8 Q474.5,50.6 471,51.8 Q468,51.4 467,49.3 Z" fill="#eee" stroke="#858585" stroke-width="0.55" />
<ellipse cx="471.8" cy="49.7" rx="1.3" ry="0.9" fill="#999"/>
</svg></body></html>
